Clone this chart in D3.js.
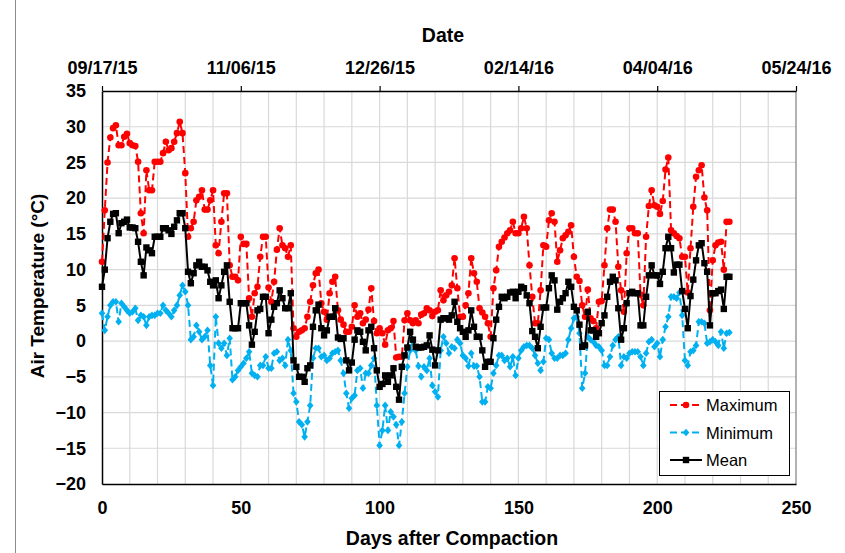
<!DOCTYPE html>
<html>
<head>
<meta charset="utf-8">
<script src="https://cdn.jsdelivr.net/npm/d3@7"></script>
<style>
  html, body { margin: 0; padding: 0; background: #fff; }
  svg { display: block; font-family: "Liberation Sans", Arial, sans-serif; }
</style>
</head>
<body>
<svg id="chart" width="845" height="553"></svg>
<script>
// Daily air temperature (°C) after compaction, day 0 = 09/17/15
const maxTemp = [
  11.1, 18.3, 25.0, 28.5, 29.8, 30.2, 27.4, 27.4, 28.6, 29.0,
  27.7, 27.4, 27.3, 25.1, 17.9, 15.1, 23.9, 21.1, 21.1, 25.1,
  25.1, 25.1, 26.3, 27.9, 26.7, 27.0, 27.9, 29.1, 30.7, 29.1,
  23.5, 14.6, 15.8, 16.7, 19.7, 20.2, 21.1, 18.4, 18.4, 19.7,
  21.1, 13.4, 12.3, 16.7, 20.7, 20.7, 10.6, 9.0, 9.0, 8.5,
  14.6, 13.6, 13.6, 6.0, 3.4, 6.7, 7.6, 11.8, 14.6, 14.6,
  7.5, 5.5, 8.3, 12.8, 15.8, 13.4, 13.0, 11.8, 13.4, 1.8,
  0.6, 1.3, 1.5, 1.8, 3.4, 5.5, 7.8, 9.5, 10.0, 5.3,
  4.1, 3.0, 6.7, 8.3, 9.0, 4.3, 3.0, 2.3, 1.3, 1.3,
  2.0, 5.0, 3.4, 3.9, 2.5, 3.0, 4.4, 7.4, 2.8, 1.1,
  1.8, 1.1, -0.5, 1.5, 1.8, 2.8, -2.3, -2.2, -2.2, 2.9,
  3.9, 2.9, 2.5, 2.9, 2.5, 3.7, 3.9, 4.6, 4.3, 3.5,
  4.1, 4.3, 7.1, 5.7, 6.4, 6.9, 7.8, 11.6, 7.4, 3.4,
  3.4, 5.0, 6.7, 11.6, 9.5, 8.3, 4.6, 4.0, 3.4, 2.5,
  0.6, 7.4, 9.9, 13.2, 13.9, 14.5, 15.1, 15.5, 16.7, 15.1,
  15.1, 15.8, 17.4, 15.8, 10.6, 6.2, 2.5, 2.5, 7.1, 13.4,
  13.2, 16.9, 17.9, 16.7, 11.1, 12.7, 14.4, 14.8, 15.3, 16.2,
  11.8, 9.0, 8.4, 5.0, 3.4, 7.2, 3.2, 2.8, 1.8, 5.5,
  5.6, 10.6, 15.8, 18.4, 18.4, 16.7, 10.4, 7.1, 4.1, 12.3,
  15.8, 15.8, 15.1, 15.1, 6.5, 5.0, 14.6, 18.9, 21.1, 19.0,
  18.8, 17.8, 19.6, 24.0, 25.7, 15.5, 15.1, 14.7, 14.4, 11.8,
  11.8, 6.8, 13.0, 18.8, 23.0, 23.9, 24.6, 20.1, 18.3, 4.3,
  11.3, 13.4, 13.8, 13.9, 10.0, 16.7, 16.7
];

const minTemp = [
  3.9, 1.5, 3.4, 5.0, 5.5, 5.5, 2.7, 5.3, 4.8, 4.3,
  3.9, 4.1, 4.6, 2.9, 3.6, 3.4, 2.2, 3.4, 3.6, 3.6,
  3.9, 3.9, 5.0, 4.3, 3.9, 3.4, 4.3, 5.0, 6.4, 7.8,
  6.9, 5.0, 0.2, 0.6, 2.2, 1.3, 0.2, 0.6, 1.5, -3.4,
  -6.2, 3.4, -0.3, -1.0, -0.3, -2.0, 0.4, -5.4, -5.0, -4.1,
  -3.6, -3.1, -2.4, -1.5, -4.5, -4.8, -5.0, -3.4, -3.4, -2.2,
  -3.8, -3.8, -1.7, -1.5, -2.7, -2.4, -3.4, 0.2, -1.3, -7.3,
  -8.5, -11.3, -11.7, -13.4, -11.3, -9.0, -2.4, -1.0, -1.0, -2.2,
  -2.0, -2.7, -2.4, -1.7, -1.5, -1.3, -2.7, -4.5, -7.3, -9.4,
  -8.0, -7.6, -4.1, -3.8, -6.6, -4.5, -4.5, -3.4, -2.4, -9.0,
  -14.6, -12.5, -9.0, -12.5, -9.9, -10.6, -11.7, -14.6, -11.3, -7.3,
  -3.6, -1.3, 0.2, -1.3, -3.5, -5.0, -3.6, -4.1, -2.4, -6.2,
  -7.1, -7.8, -1.3, 0.6, -0.3, -1.7, -0.8, -1.0, 0.2, -0.3,
  -2.0, -2.4, -3.5, -1.7, -3.5, -3.5, -5.0, -8.5, -8.5, -6.4,
  -6.6, -4.5, -3.4, -2.0, -2.0, -2.7, -2.4, -3.6, -2.2, -4.8,
  -2.4, -1.3, -0.8, -0.6, -0.6, -1.0, -2.0, -3.1, -4.1, -2.9,
  0.4, 0.2, -1.7, -2.4, -2.4, -2.0, -2.0, -1.7, 0.2, 1.8,
  3.2, 3.4, 1.1, -6.6, -4.5, 0.6, 0.2, -0.1, -0.6, -0.8,
  -1.3, -3.4, -3.4, -2.2, -0.6, 0.2, 0.6, -3.4, -2.2, -2.4,
  -1.7, -1.5, -1.5, -1.5, -2.2, -3.4, -1.7, -0.1, 0.2, -0.8,
  -0.3, -2.2, 0.2, 2.0, 3.4, 6.2, 6.2, 6.0, 6.8, 3.6,
  -2.7, -3.4, -1.5, -1.3, -0.6, 2.7, 2.7, 2.5, -0.3, -0.1,
  0.2, -0.1, -0.6, 1.3, -1.0, 1.1, 1.2
];

const meanTemp = [
  7.6, 10.0, 14.4, 16.7, 17.8, 17.9, 15.1, 16.5, 16.7, 17.0,
  15.9, 15.9, 15.8, 13.9, 11.1, 9.2, 13.1, 12.7, 12.3, 14.6,
  14.6, 14.6, 15.8, 15.8, 15.5, 15.0, 16.0, 16.9, 17.9, 17.9,
  15.8, 9.7, 8.1, 9.5, 10.6, 11.1, 10.4, 10.4, 9.9, 8.3,
  7.8, 8.5, 6.0, 7.8, 9.7, 10.6, 5.5, 1.8, 1.8, 1.8,
  5.3, 5.3, 5.3, 2.2, -0.5, 1.3, 4.3, 4.5, 6.2, 6.2,
  1.1, 3.0, 4.8, 5.3, 7.1, 6.0, 4.6, 4.6, 6.7, -2.7,
  -3.6, -5.0, -5.0, -5.7, -3.8, -3.4, 2.0, 4.3, 5.1, 1.8,
  0.8, 1.5, 3.4, 3.4, 4.6, 0.5, 0.3, 0.4, -2.7, -4.1,
  -3.0, 0.2, 1.5, 1.3, -0.1, -1.3, 1.5, 2.0, -1.0, -4.1,
  -6.4, -6.0, -4.8, -5.7, -4.8, -3.8, -6.4, -8.2, -3.6, -2.0,
  -0.9, 1.3, 0.2, -0.8, -0.9, -0.9, -0.8, -0.6, 0.8, -1.2,
  -3.4, -1.3, 3.0, 3.2, 3.2, 3.0, 3.6, 5.5, 2.7, 1.8,
  1.3, 0.6, 1.5, 4.3, 2.0, 0.6, 0.6, -1.3, -3.6, -2.9,
  -2.9, 0.4, 3.0, 4.8, 6.2, 6.0, 6.2, 6.8, 6.9, 6.0,
  6.9, 7.6, 7.4, 6.4, 5.3, 1.4, 0.6, -1.0, 2.0, 4.7,
  4.7, 7.4, 9.2, 8.5, 4.4, 5.5, 6.0, 6.7, 8.3, 7.6,
  4.8, 4.3, 2.3, -0.8, -0.6, 4.1, 1.5, 1.5, 0.6, 1.1,
  2.5, 3.6, 6.2, 8.3, 9.0, 8.5, 4.6, 0.2, 1.8, 5.3,
  6.7, 6.9, 6.7, 6.7, 2.2, 2.2, 6.2, 9.2, 10.6, 9.2,
  9.2, 8.0, 9.7, 13.0, 14.6, 13.0, 9.6, 10.7, 10.7, 7.0,
  4.5, 1.8, 6.3, 8.6, 11.3, 13.4, 13.7, 10.9, 9.7, 2.2,
  6.7, 6.7, 7.0, 7.2, 4.5, 9.0, 9.0
];

const dayTicks = [0, 50, 100, 150, 200, 250];
const dateLabels = ["09/17/15", "11/06/15", "12/26/15", "02/14/16", "04/04/16", "05/24/16"];
const tempTicks = [-20, -15, -10, -5, 0, 5, 10, 15, 20, 25, 30, 35];

const seriesNames = ["Maximum", "Minimum", "Mean"];
const seriesColors = ["#ff0000", "#00b0f0", "#000000"];

const svg = d3.select("#chart");
const plot = { left: 102, right: 796, top: 91, bottom: 484 };

const x = d3.scaleLinear().domain([0, 250]).range([plot.left, plot.right]);
const y = d3.scaleLinear().domain([-20, 35]).range([plot.bottom, plot.top]);

// outer figure border (only the left edge falls inside the canvas)
svg.append("rect")
  .attr("x", 15.5).attr("y", -5).attr("width", 900).attr("height", 600)
  .attr("fill", "none").attr("stroke", "#8c8c8c").attr("stroke-width", 1);

// gridlines
const grid = svg.append("g").attr("stroke", "#d9d9d9").attr("stroke-width", 1.2);
grid.selectAll("line.v").data(d3.range(10, 250, 10)).join("line")
  .attr("x1", d => x(d)).attr("x2", d => x(d))
  .attr("y1", plot.top).attr("y2", plot.bottom);
grid.selectAll("line.h").data(tempTicks.filter(t => t > -20 && t < 35)).join("line")
  .attr("x1", plot.left).attr("x2", plot.right)
  .attr("y1", d => y(d)).attr("y2", d => y(d));

// plot frame
svg.append("line").attr("x1", plot.right).attr("x2", plot.right)
  .attr("y1", plot.top).attr("y2", plot.bottom)
  .attr("stroke", "#7f7f7f").attr("stroke-width", 1.2);

const tickFont = "bold 18px 'Liberation Sans', Arial, sans-serif";

// bottom axis: days after compaction
const xAxis = svg.append("g").attr("transform", `translate(0,${plot.bottom})`)
  .call(d3.axisBottom(x).tickValues(dayTicks).tickSize(0).tickPadding(17).tickSizeOuter(0));
xAxis.select(".domain").attr("stroke", "#000").attr("stroke-width", 1.5);
xAxis.selectAll("text").style("font", tickFont).attr("fill", "#000");

// top axis: calendar dates
const topAxis = svg.append("g").attr("transform", `translate(0,${plot.top})`)
  .call(d3.axisTop(x).tickValues(dayTicks).tickSize(5).tickPadding(12).tickSizeOuter(0)
    .tickFormat((d, i) => dateLabels[i]));
topAxis.select(".domain").attr("stroke", "#000").attr("stroke-width", 1.5);
topAxis.selectAll(".tick line").attr("stroke", "#000").attr("stroke-width", 1.2);
topAxis.selectAll("text").style("font", tickFont).attr("fill", "#000");

// left axis: temperature
const yAxis = svg.append("g").attr("transform", `translate(${plot.left},0)`)
  .call(d3.axisLeft(y).tickValues(tempTicks).tickSize(0).tickPadding(16).tickSizeOuter(0));
yAxis.select(".domain").attr("stroke", "#000").attr("stroke-width", 1.5);
yAxis.selectAll("text").style("font", tickFont).attr("fill", "#000");

// axis titles
const titleFont = "bold 19.5px 'Liberation Sans', Arial, sans-serif";
svg.append("text").attr("x", 443).attr("y", 42).attr("text-anchor", "middle")
  .style("font", titleFont).text("Date");
svg.append("text").attr("x", 452).attr("y", 545).attr("text-anchor", "middle")
  .style("font", titleFont).text("Days after Compaction");
svg.append("text").attr("transform", "translate(44,286) rotate(-90)").attr("text-anchor", "middle")
  .style("font", "bold 19px 'Liberation Sans', Arial, sans-serif").text("Air Temperature (°C)");

// series
const series = [maxTemp, minTemp, meanTemp];
const dashes = ["7,4", "7,4", null];
const line = d3.line().x((d, i) => x(i)).y(d => y(d));

const diamond = "M0,-3.8L3.3,0L0,3.8L-3.3,0Z";

function drawMarker(g, k) {
  if (k === 0) {
    g.append("circle").attr("r", 3.3).attr("fill", seriesColors[0]);
  } else if (k === 1) {
    g.append("path").attr("d", diamond).attr("fill", seriesColors[1]);
  } else {
    g.append("rect").attr("x", -3.2).attr("y", -3.2).attr("width", 6.4).attr("height", 6.4)
      .attr("fill", seriesColors[2]);
  }
}

series.forEach((vals, k) => {
  const g = svg.append("g");
  g.append("path").datum(vals)
    .attr("d", line)
    .attr("fill", "none")
    .attr("stroke", seriesColors[k])
    .attr("stroke-width", 2)
    .attr("stroke-dasharray", dashes[k]);
  g.selectAll("g.pt").data(vals).join("g")
    .attr("transform", (d, i) => `translate(${x(i)},${y(d)})`)
    .each(function () { drawMarker(d3.select(this), k); });
});

// legend
const legend = svg.append("g");
legend.append("rect").attr("x", 659.5).attr("y", 391.5).attr("width", 130).attr("height", 84)
  .attr("fill", "#fff").attr("stroke", "#000").attr("stroke-width", 1);
seriesNames.forEach((name, k) => {
  const ly = 405 + k * 27.5;
  const row = legend.append("g");
  row.append("line").attr("x1", 670).attr("x2", 702).attr("y1", ly).attr("y2", ly)
    .attr("stroke", seriesColors[k]).attr("stroke-width", 2)
    .attr("stroke-dasharray", dashes[k]);
  drawMarker(row.append("g").attr("transform", `translate(686,${ly})`), k);
  row.append("text").attr("x", 706).attr("y", ly + 6)
    .style("font", "16.5px 'Liberation Sans', Arial, sans-serif").text(name);
});
</script>
</body>
</html>
